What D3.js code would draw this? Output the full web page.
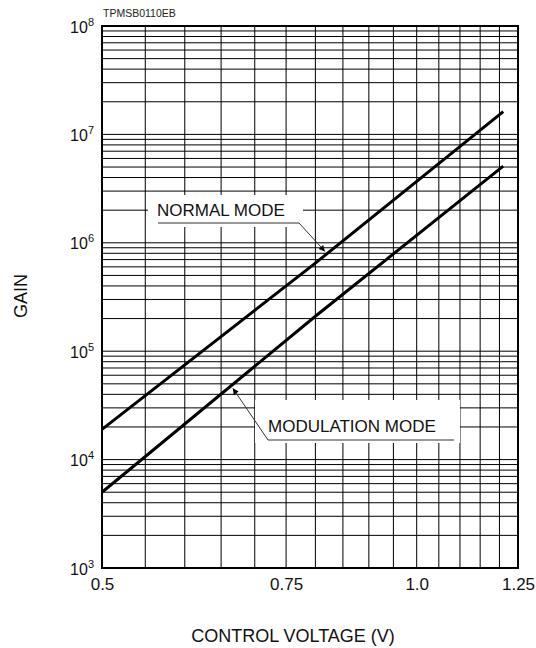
<!DOCTYPE html>
<html><head><meta charset="utf-8">
<script src="https://cdn.jsdelivr.net/npm/d3@7"></script>
<style>
html,body{margin:0;padding:0;background:#fff;}
svg{display:block;font-family:"Liberation Sans",Arial,sans-serif;}
</style></head>
<body><svg id="c" width="536" height="648"></svg>
<script>
// ---- data ----
const voltage = [0.5, 0.8, 1.21];
const normalGain = [1.9e4, 6.5e5, 1.62e7];
const modulationGain = [5.0e3, 2.1e5, 5.1e6];
const xTickValues = [0.5, 0.75, 1.0, 1.25];
const xTickLabels = ["0.5", "0.75", "1.0", "1.25"];
const yTickExponents = [3, 4, 5, 6, 7, 8];
const xGrid = [0.55,0.6,0.65,0.7,0.75,0.8,0.85,0.9,0.95,1.0,1.05,1.1,1.15,1.2];
const seriesNames = ["NORMAL MODE", "MODULATION MODE"];
const chartCode = "TPMSB0110EB";
const xTitle = "CONTROL VOLTAGE (V)";
const yTitle = "GAIN";

// ---- layout ----
const L = 102, R = 518, T = 26, B = 568;
const svg = d3.select("#c");
const x = d3.scaleLog().domain([0.5, 1.25]).range([L, R]);
const y = d3.scaleLog().domain([1e3, 1e8]).range([B, T]);

// grid
const g = svg.append("g");
xGrid.forEach(v => g.append("line").attr("x1", x(v)).attr("x2", x(v))
  .attr("y1", T).attr("y2", B).attr("stroke", "#000").attr("stroke-width", 1));
const yGrid = [];
for (let k = 3; k <= 7; k++) for (let m = 1; m <= 9; m++) { if (!(k === 3 && m === 1)) yGrid.push(m * Math.pow(10, k)); }
yGrid.forEach(v => g.append("line").attr("x1", L).attr("x2", R)
  .attr("y1", y(v)).attr("y2", y(v)).attr("stroke", "#000").attr("stroke-width", 1));

// label knock-out boxes
svg.append("rect").attr("x", 148).attr("y", 195).attr("width", 155).attr("height", 32).attr("fill", "#fff");
svg.append("rect").attr("x", 255).attr("y", 400).attr("width", 205).attr("height", 43).attr("fill", "#fff");

// border
svg.append("rect").attr("x", L).attr("y", T).attr("width", R - L).attr("height", B - T)
  .attr("fill", "none").attr("stroke", "#000").attr("stroke-width", 2);

// curves
const line = d3.line().x(d => x(d[0])).y(d => y(d[1]));
[normalGain, modulationGain].forEach(s => {
  svg.append("path").datum(voltage.map((v, i) => [v, s[i]]))
    .attr("d", line).attr("fill", "none").attr("stroke", "#000").attr("stroke-width", 3);
});

// annotations
const defs = svg.append("defs");
defs.append("marker").attr("id", "ah").attr("viewBox", "0 0 10 10").attr("refX", 10).attr("refY", 5)
  .attr("markerWidth", 9).attr("markerHeight", 6).attr("orient", "auto").attr("markerUnits", "userSpaceOnUse")
  .append("path").attr("d", "M0,0 L10,5 L0,10 z").attr("fill", "#000");
function gainAt(s, v) { // log-log on the read points
  const lx = Math.log10(v);
  for (let i = 0; i < voltage.length - 1; i++) {
    const a = Math.log10(voltage[i]), b = Math.log10(voltage[i + 1]);
    if (lx <= b || i === voltage.length - 2) {
      const t = (lx - a) / (b - a);
      return Math.pow(10, Math.log10(s[i]) + t * (Math.log10(s[i + 1]) - Math.log10(s[i])));
    }
  }
}
// NORMAL MODE
{
  const vx = 0.817, tipX = x(vx), tipY = y(gainAt(normalGain, vx)) - 4;
  svg.append("path").attr("d", `M158,223 L299,223 L${tipX},${tipY}`)
    .attr("fill", "none").attr("stroke", "#333").attr("stroke-width", 1).attr("marker-end", "url(#ah)");
  svg.append("text").attr("x", 157).attr("y", 216).attr("font-size", 17).attr("fill", "#111").text(seriesNames[0]);
}
// MODULATION MODE
{
  const vx = 0.667, tipX = x(vx), tipY = y(gainAt(modulationGain, vx)) + 4;
  svg.append("path").attr("d", `M454,440 L268,440 L${tipX},${tipY}`)
    .attr("fill", "none").attr("stroke", "#333").attr("stroke-width", 1).attr("marker-end", "url(#ah)");
  svg.append("text").attr("x", 268).attr("y", 432).attr("font-size", 17).attr("fill", "#111").text(seriesNames[1]);
}

// x axis
const xa = svg.append("g").attr("transform", `translate(0,${B})`)
  .call(d3.axisBottom(x).tickValues(xTickValues).tickSize(0).tickPadding(0)
    .tickFormat((d, i) => xTickLabels[i]));
xa.select(".domain").remove();
xa.selectAll("text").attr("font-size", 17).attr("font-family", "Liberation Sans, Arial, sans-serif")
  .attr("fill", "#111").attr("dy", null).attr("y", 22);

// y axis
const ya = svg.append("g").attr("transform", `translate(94,0)`)
  .call(d3.axisLeft(y).tickValues(yTickExponents.map(e => Math.pow(10, e))).tickSize(0).tickPadding(0).tickFormat(""));
ya.select(".domain").remove();
ya.selectAll(".tick").each(function(d, i) {
  const t = d3.select(this).select("text");
  t.attr("x", 0).attr("dy", null).attr("y", 6).attr("text-anchor", "end")
    .attr("font-family", "Liberation Sans, Arial, sans-serif").attr("fill", "#111").attr("font-size", 16);
  t.append("tspan").text("10");
  t.append("tspan").attr("dy", -7).attr("font-size", 11).text(yTickExponents[i]);
});

// titles
svg.append("text").attr("x", 103).attr("y", 17).attr("font-size", 10.5).attr("fill", "#222").text(chartCode);
svg.append("text").attr("x", 293).attr("y", 642).attr("text-anchor", "middle").attr("font-size", 18).attr("fill", "#111").text(xTitle);
svg.append("text").attr("transform", "translate(27,296) rotate(-90)").attr("text-anchor", "middle")
  .attr("font-size", 18).attr("fill", "#111").text(yTitle);
</script></body></html>
